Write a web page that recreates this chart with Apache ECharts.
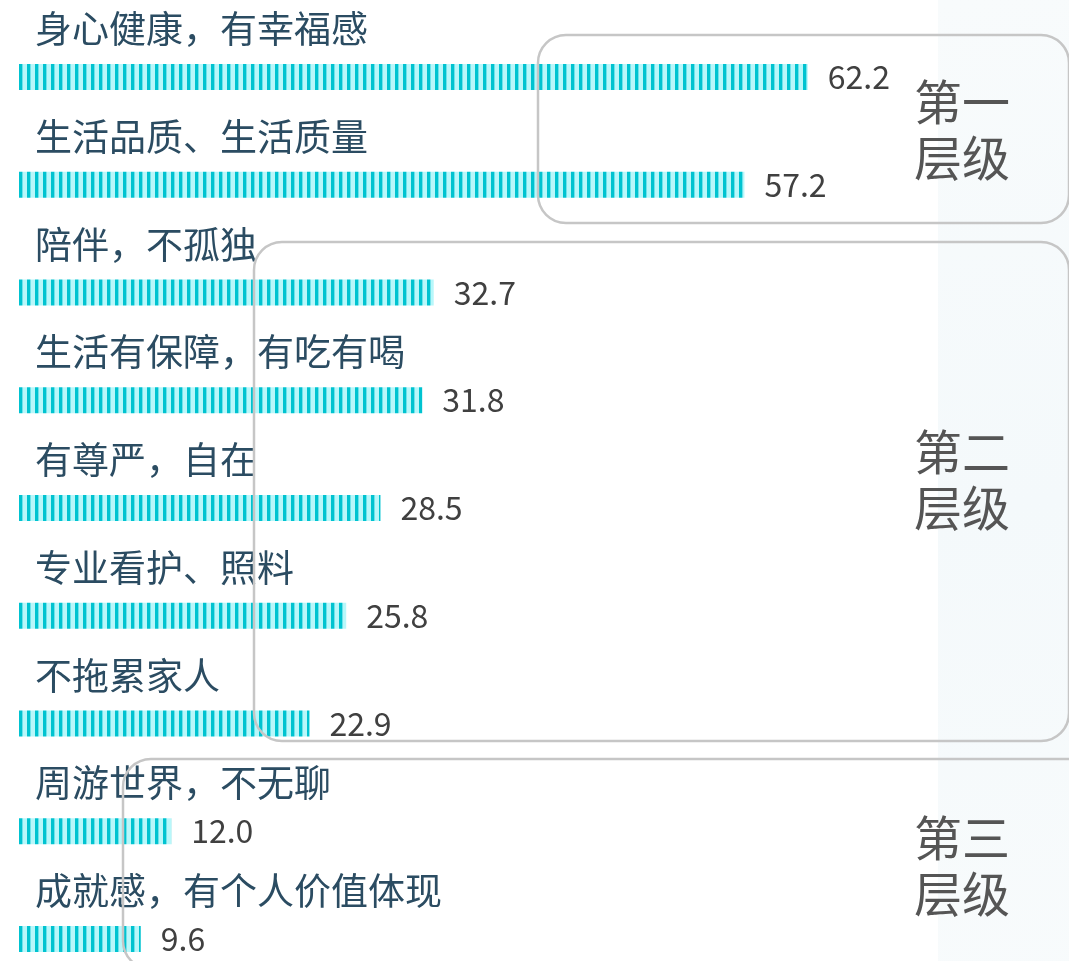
<!DOCTYPE html>
<html>
<head>
<meta charset="utf-8">
<script src="https://cdn.jsdelivr.net/npm/echarts@6/dist/echarts.min.js"></script>
<style>
html,body{margin:0;padding:0;background:#fff;overflow:hidden;}
#main{width:1069px;height:1010px;}
</style>
</head>
<body>
<div id="main"></div>
<script>
const categories = ['身心健康，有幸福感','生活品质、生活质量','陪伴，不孤独','生活有保障，有吃有喝','有尊严，自在','专业看护、照料','不拖累家人','周游世界，不无聊','成就感，有个人价值体现'];
const values = [62.2, 57.2, 32.7, 31.8, 28.5, 25.8, 22.9, 12.0, 9.6];
const tierLabels = ['第一\n层级','第二\n层级','第三\n层级'];

// stripe pattern
const pc = document.createElement('canvas');
pc.width = 8; pc.height = 26;
const ctx = pc.getContext('2d');
ctx.fillStyle = '#b8f7fa'; ctx.fillRect(0,0,8,26);
ctx.fillStyle = '#00c3d0'; ctx.fillRect(3,0,3,26);
ctx.fillStyle = '#70e2ea'; ctx.fillRect(6,0,1,26);

const chart = echarts.init(document.getElementById('main'));
const boxStyle = {fill:'none', stroke:'#c6c6c6', lineWidth:2.5};
const tierStyle = {fill:'#555', font:'48px "Noto Sans CJK SC"', lineHeight:56, align:'left', verticalAlign:'middle'};
chart.setOption({
  backgroundColor:'#fff',
  animation:false,
  grid:{left:19, top:23, width:1014.6, height:970, containLabel:false},
  xAxis:{type:'value', min:0, max:80, show:false},
  yAxis:{type:'category', data:categories, inverse:true,
    axisLine:{show:false}, axisTick:{show:false}, splitLine:{show:false}, axisLabel:{show:false}},
  graphic:[
    {type:'rect', z:-10, shape:{x:938,y:0,width:131,height:1010}, style:{fill:new echarts.graphic.LinearGradient(0,0,1,1,[{offset:0,color:'#f8fbfc'},{offset:0.5,color:'#f4f9fb'},{offset:1,color:'#f8fbfc'}])}},
    {type:'rect', z:10, shape:{x:538,y:35,width:531,height:188,r:28}, style:boxStyle},
    {type:'rect', z:10, shape:{x:254,y:242,width:815,height:499,r:28}, style:boxStyle},
    {type:'rect', z:10, shape:{x:123,y:759,width:1000,height:210,r:28}, style:boxStyle},
    {type:'text', z:11, x:914, y:130, style:Object.assign({text:tierLabels[0]}, tierStyle)},
    {type:'text', z:11, x:914, y:480, style:Object.assign({text:tierLabels[1]}, tierStyle)},
    {type:'text', z:11, x:914, y:866, style:Object.assign({text:tierLabels[2]}, tierStyle)}
  ],
  series:[{
    type:'bar', data:values, barWidth:26,
    itemStyle:{color:{image:pc, repeat:'repeat'}},
    label:{show:true, position:'right', distance:20, color:'#404040', fontSize:32,
      fontFamily:'Noto Sans CJK SC', formatter:p=>p.value.toFixed(1)}
  },{
    type:'bar', data:values, barWidth:26, barGap:'-100%', silent:true,
    itemStyle:{color:'rgba(0,0,0,0)'},
    label:{show:true, position:[16,-35], align:'left', verticalAlign:'middle',
      color:'#2b4c62', fontSize:37, fontFamily:'Noto Sans CJK SC', formatter:p=>p.name}
  }]
});
</script>
</body>
</html>
